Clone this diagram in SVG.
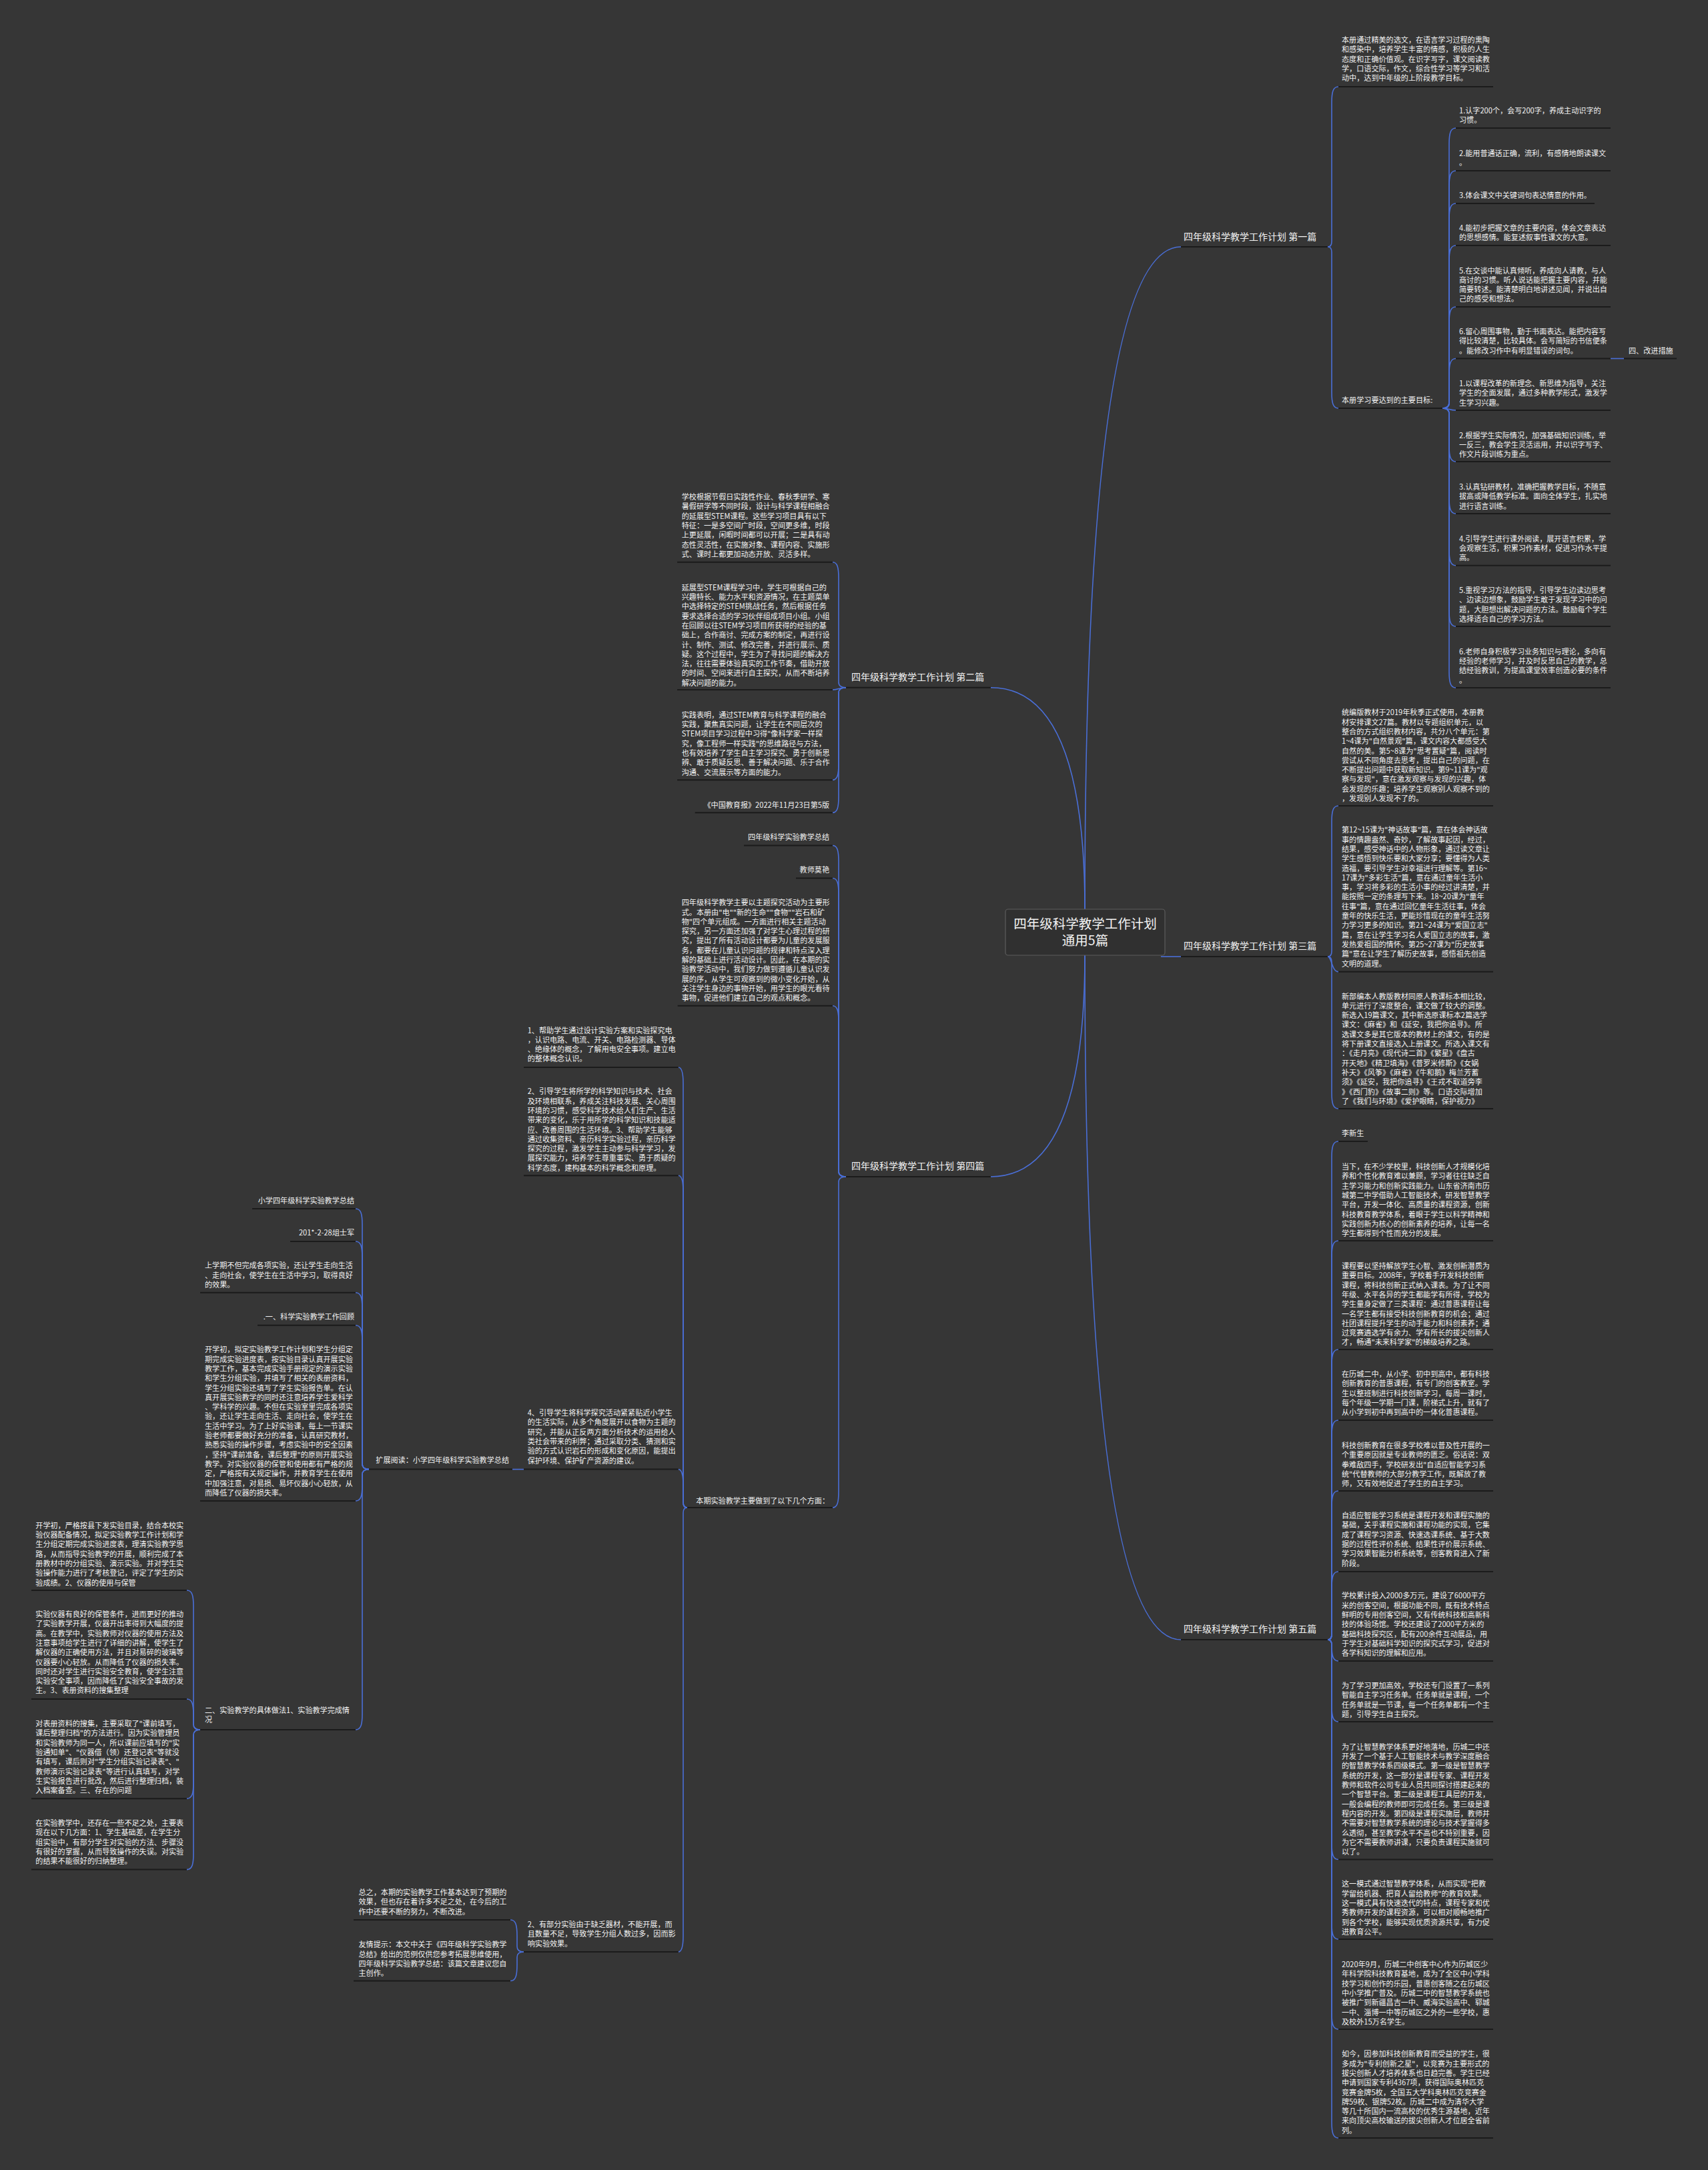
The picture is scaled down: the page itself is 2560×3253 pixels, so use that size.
<svg xmlns="http://www.w3.org/2000/svg" width="2560" height="3253" viewBox="0 0 2560 3253">
<style>
.t{font-family:"Noto Sans CJK SC","Noto Sans",sans-serif;font-size:11.1px;fill:#f2f2f2}
.h{font-family:"Noto Sans CJK SC","Noto Sans",sans-serif;font-size:14px;fill:#f2f2f2}
.rt{font-family:"Noto Sans CJK SC","Noto Sans",sans-serif;font-size:19.5px;fill:#f2f2f2;text-anchor:middle}
.e{text-anchor:end}
.u{stroke:#1b1b1b;stroke-width:2;fill:none}
.c{stroke:#4a6fd8;stroke-width:1.6;fill:none}
</style>
<rect width="2560" height="3253" fill="#363636"/>
<g id="connectors">
<path class="c" d="M1626,1363 Q1626,370 1770,370"/>
<path class="c" d="M1626,1363 Q1626,1030.7 1485,1030.7"/>
<path class="c" d="M1740,1434 L1770,1434"/>
<path class="c" d="M1626,1432 Q1626,1764 1485,1764"/>
<path class="c" d="M1626,1432 Q1626,2458 1770,2458"/>
<path class="c" d="M1990,370 Q1996,370 1996,362 L1996,154 C1996,138 1998,130 2006,130"/>
<path class="c" d="M1990,370 Q1996,370 1996,378 L1996,588 C1996,604 1998,612 2006,612"/>
<path class="c" d="M2162,612 Q2172,612 2172,604 L2172,216 C2172,200 2174,192 2182,192"/>
<path class="c" d="M2162,612 Q2172,612 2172,604 L2172,280 C2172,264 2174,256 2182,256"/>
<path class="c" d="M2162,612 Q2172,612 2172,604 L2172,329 C2172,313 2174,305 2182,305"/>
<path class="c" d="M2162,612 Q2172,612 2172,604 L2172,392 C2172,376 2174,368 2182,368"/>
<path class="c" d="M2162,612 Q2172,612 2172,604 L2172,484 C2172,468 2174,460 2182,460"/>
<path class="c" d="M2162,612 Q2172,612 2172,604 L2172,561.5 C2172,545.5 2174,537.5 2182,537.5"/>
<path class="c" d="M2162,612 C2172,612 2172,615 2182,615"/>
<path class="c" d="M2162,612 Q2172,612 2172,620 L2172,668 C2172,684 2174,692 2182,692"/>
<path class="c" d="M2162,612 Q2172,612 2172,620 L2172,746 C2172,762 2174,770 2182,770"/>
<path class="c" d="M2162,612 Q2172,612 2172,620 L2172,823.7 C2172,839.7 2174,847.7 2182,847.7"/>
<path class="c" d="M2162,612 Q2172,612 2172,620 L2172,915 C2172,931 2174,939 2182,939"/>
<path class="c" d="M2162,612 Q2172,612 2172,620 L2172,1007 C2172,1023 2174,1031 2182,1031"/>
<path class="c" d="M2414,537.5 L2434,537.5"/>
<path class="c" d="M1990,1434 Q1996,1434 1996,1426 L1996,1232 C1996,1216 1998,1208 2006,1208"/>
<path class="c" d="M1990,1434 C1996,1434 1996,1456.7 2006,1456.7"/>
<path class="c" d="M1990,1434 Q1996,1434 1996,1442 L1996,1638 C1996,1654 1998,1662 2006,1662"/>
<path class="c" d="M1990,2458 Q1996,2458 1996,2450 L1996,1735 C1996,1719 1998,1711 2006,1711"/>
<path class="c" d="M1990,2458 Q1996,2458 1996,2450 L1996,1884 C1996,1868 1998,1860 2006,1860"/>
<path class="c" d="M1990,2458 Q1996,2458 1996,2450 L1996,2047 C1996,2031 1998,2023 2006,2023"/>
<path class="c" d="M1990,2458 Q1996,2458 1996,2450 L1996,2153 C1996,2137 1998,2129 2006,2129"/>
<path class="c" d="M1990,2458 Q1996,2458 1996,2450 L1996,2259 C1996,2243 1998,2235 2006,2235"/>
<path class="c" d="M1990,2458 Q1996,2458 1996,2450 L1996,2380 C1996,2364 1998,2356 2006,2356"/>
<path class="c" d="M1990,2458 Q1996,2458 1996,2466 C1996,2482 1998,2490 2006,2490"/>
<path class="c" d="M1990,2458 Q1996,2458 1996,2466 L1996,2557 C1996,2573 1998,2581 2006,2581"/>
<path class="c" d="M1990,2458 Q1996,2458 1996,2466 L1996,2763.5 C1996,2779.5 1998,2787.5 2006,2787.5"/>
<path class="c" d="M1990,2458 Q1996,2458 1996,2466 L1996,2883 C1996,2899 1998,2907 2006,2907"/>
<path class="c" d="M1990,2458 Q1996,2458 1996,2466 L1996,3018 C1996,3034 1998,3042 2006,3042"/>
<path class="c" d="M1990,2458 Q1996,2458 1996,2466 L1996,3181 C1996,3197 1998,3205 2006,3205"/>
<path class="c" d="M1268,1030.7 Q1257,1030.7 1257,1022.7 L1257,866.7 C1257,850.7 1255,842.7 1248,842.7"/>
<path class="c" d="M1268,1030.7 C1257,1030.7 1257,1034 1248,1034"/>
<path class="c" d="M1268,1030.7 Q1257,1030.7 1257,1038.7 L1257,1145.3 C1257,1161.3 1255,1169.3 1248,1169.3"/>
<path class="c" d="M1268,1030.7 Q1257,1030.7 1257,1038.7 L1257,1194.3 C1257,1210.3 1255,1218.3 1248,1218.3"/>
<path class="c" d="M1268,1764 Q1257,1764 1257,1756 L1257,1291.5 C1257,1275.5 1255,1267.5 1248,1267.5"/>
<path class="c" d="M1268,1764 Q1257,1764 1257,1756 L1257,1340.5 C1257,1324.5 1255,1316.5 1248,1316.5"/>
<path class="c" d="M1268,1764 Q1257,1764 1257,1756 L1257,1531.8 C1257,1515.8 1255,1507.8 1248,1507.8"/>
<path class="c" d="M1268,1764 Q1257,1764 1257,1772 L1257,2236 C1257,2252 1255,2260 1248,2260"/>
<path class="c" d="M1030,2260 Q1024,2260 1024,2252 L1024,1624 C1024,1608 1022,1600 1016.7,1600"/>
<path class="c" d="M1030,2260 Q1024,2260 1024,2252 L1024,1786.3 C1024,1770.3 1022,1762.3 1016.7,1762.3"/>
<path class="c" d="M1030,2260 Q1024,2260 1024,2252 L1024,2226.6 C1024,2210.6 1022,2202.6 1016.7,2202.6"/>
<path class="c" d="M1030,2260 Q1024,2260 1024,2268 L1024,2902 C1024,2918 1022,2926 1016.7,2926"/>
<path class="c" d="M785,2202.6 L768,2202.6"/>
<path class="c" d="M553,2202.6 Q543,2202.6 543,2194.6 L543,1836 C543,1820 541,1812 533,1812"/>
<path class="c" d="M553,2202.6 Q543,2202.6 543,2194.6 L543,1885 C543,1869 541,1861 533,1861"/>
<path class="c" d="M553,2202.6 Q543,2202.6 543,2194.6 L543,1961.7 C543,1945.7 541,1937.7 533,1937.7"/>
<path class="c" d="M553,2202.6 Q543,2202.6 543,2194.6 L543,2010.7 C543,1994.7 541,1986.7 533,1986.7"/>
<path class="c" d="M553,2202.6 Q543,2202.6 543,2210.6 L543,2226 C543,2242 541,2250 533,2250"/>
<path class="c" d="M553,2202.6 Q543,2202.6 543,2210.6 L543,2569 C543,2585 541,2593 533,2593"/>
<path class="c" d="M300,2593 Q290,2593 290,2585 L290,2408 C290,2392 288,2384 280,2384"/>
<path class="c" d="M300,2593 Q290,2593 290,2585 L290,2571 C290,2555 288,2547 280,2547"/>
<path class="c" d="M300,2593 Q290,2593 290,2601 L290,2672.3 C290,2688.3 288,2696.3 280,2696.3"/>
<path class="c" d="M300,2593 Q290,2593 290,2601 L290,2778.6 C290,2794.6 288,2802.6 280,2802.6"/>
<path class="c" d="M785,2926 Q775,2926 775,2918 L775,2902 C775,2886 773,2878 765,2878"/>
<path class="c" d="M785,2926 Q775,2926 775,2934 L775,2945.5 C775,2961.5 773,2969.5 765,2969.5"/>
</g>
<g id="root">
<rect x="1507" y="1363" width="239" height="69" rx="4" fill="#303030" stroke="#5c5c5c" stroke-width="1.2"/>
<text class="rt" x="1626.5" y="1392">四年级科学教学工作计划</text>
<text class="rt" x="1626.5" y="1417">通用5篇</text>
</g>
<g id="sec1"><text class="h" x="1774" y="360">四年级科学教学工作计划 第一篇</text><line class="u" x1="1770" y1="370" x2="1990" y2="370"/></g>
<g id="sec2"><text class="h" x="1276" y="1020">四年级科学教学工作计划 第二篇</text><line class="u" x1="1268" y1="1030.7" x2="1485" y2="1030.7"/></g>
<g id="sec3"><text class="h" x="1774" y="1423">四年级科学教学工作计划 第三篇</text><line class="u" x1="1770" y1="1434" x2="1990" y2="1434"/></g>
<g id="sec4"><text class="h" x="1276" y="1753">四年级科学教学工作计划 第四篇</text><line class="u" x1="1268" y1="1764" x2="1485" y2="1764"/></g>
<g id="sec5"><text class="h" x="1774" y="2447">四年级科学教学工作计划 第五篇</text><line class="u" x1="1770" y1="2458" x2="1990" y2="2458"/></g>

<g id="r1a"><text class="t" x="2011" y="64"><tspan x="2011">本册通过精美的选文，在语言学习过程的熏陶</tspan><tspan x="2011" dy="14.3">和感染中，培养学生丰富的情感，积极的人生</tspan><tspan x="2011" dy="14.3">态度和正确价值观。在识字写字，课文阅读教</tspan><tspan x="2011" dy="14.3">学，口语交际，作文，综合性学习等学习和活</tspan><tspan x="2011" dy="14.3">动中，达到中年级的上阶段教学目标。</tspan></text><line class="u" x1="2006" y1="130" x2="2238" y2="130"/></g>
<g id="r1b"><text class="t" x="2011" y="604">本册学习要达到的主要目标:</text><line class="u" x1="2006" y1="612" x2="2162" y2="612"/></g>
<g id="c1"><text class="t" x="2187" y="170"><tspan x="2187">1.认字200个，会写200字，养成主动识字的</tspan><tspan x="2187" dy="14.3">习惯。</tspan></text><line class="u" x1="2182" y1="192" x2="2414" y2="192"/></g>
<g id="c2"><text class="t" x="2187" y="234"><tspan x="2187">2.能用普通话正确，流利，有感情地朗读课文</tspan><tspan x="2187" dy="14.3">。</tspan></text><line class="u" x1="2182" y1="256" x2="2414" y2="256"/></g>
<g id="c3"><text class="t" x="2187" y="297">3.体会课文中关键词句表达情意的作用。</text><line class="u" x1="2182" y1="305" x2="2390" y2="305"/></g>
<g id="c4"><text class="t" x="2187" y="346"><tspan x="2187">4.能初步把握文章的主要内容，体会文章表达</tspan><tspan x="2187" dy="14.3">的思想感情。能复述叙事性课文的大意。</tspan></text><line class="u" x1="2182" y1="368" x2="2414" y2="368"/></g>
<g id="c5"><text class="t" x="2187" y="409.5"><tspan x="2187">5.在交谈中能认真倾听，养成向人请教，与人</tspan><tspan x="2187" dy="14.3">商讨的习惯。听人说话能把握主要内容，并能</tspan><tspan x="2187" dy="14.3">简要转述。能清楚明白地讲述见闻，并说出自</tspan><tspan x="2187" dy="14.3">己的感受和想法。</tspan></text><line class="u" x1="2182" y1="460" x2="2414" y2="460"/></g>
<g id="c6"><text class="t" x="2187" y="501"><tspan x="2187">6.留心周围事物，勤于书面表达。能把内容写</tspan><tspan x="2187" dy="14.3">得比较清楚，比较具体。会写简短的书信便条</tspan><tspan x="2187" dy="14.3">。能修改习作中有明显错误的词句。</tspan></text><line class="u" x1="2182" y1="537.5" x2="2414" y2="537.5"/></g>
<g id="c6a"><text class="t" x="2441" y="530">四、改进措施</text><line class="u" x1="2434" y1="537.5" x2="2513" y2="537.5"/></g>
<g id="c7"><text class="t" x="2187" y="579"><tspan x="2187">1.以课程改革的新理念、新思维为指导，关注</tspan><tspan x="2187" dy="14.3">学生的全面发展，通过多种教学形式，激发学</tspan><tspan x="2187" dy="14.3">生学习兴趣。</tspan></text><line class="u" x1="2182" y1="615" x2="2414" y2="615"/></g>
<g id="c8"><text class="t" x="2187" y="656.7"><tspan x="2187">2.根据学生实际情况，加强基础知识训练，举</tspan><tspan x="2187" dy="14.3">一反三，教会学生灵活运用，并以识字写字、</tspan><tspan x="2187" dy="14.3">作文片段训练为重点。</tspan></text><line class="u" x1="2182" y1="692" x2="2414" y2="692"/></g>
<g id="c9"><text class="t" x="2187" y="734"><tspan x="2187">3.认真钻研教材，准确把握教学目标，不随意</tspan><tspan x="2187" dy="14.3">拔高或降低教学标准。面向全体学生，扎实地</tspan><tspan x="2187" dy="14.3">进行语言训练。</tspan></text><line class="u" x1="2182" y1="770" x2="2414" y2="770"/></g>
<g id="c10"><text class="t" x="2187" y="811.7"><tspan x="2187">4.引导学生进行课外阅读，展开语言积累，学</tspan><tspan x="2187" dy="14.3">会观察生活，积累习作素材，促进习作水平提</tspan><tspan x="2187" dy="14.3">高。</tspan></text><line class="u" x1="2182" y1="847.7" x2="2414" y2="847.7"/></g>
<g id="c11"><text class="t" x="2187" y="889"><tspan x="2187">5.重视学习方法的指导，引导学生边读边思考</tspan><tspan x="2187" dy="14.3">、边读边想象，鼓励学生敢于发现学习中的问</tspan><tspan x="2187" dy="14.3">题，大胆想出解决问题的方法。鼓励每个学生</tspan><tspan x="2187" dy="14.3">选择适合自己的学习方法。</tspan></text><line class="u" x1="2182" y1="939" x2="2414" y2="939"/></g>
<g id="c12"><text class="t" x="2187" y="980.7"><tspan x="2187">6.老师自身积极学习业务知识与理论，多向有</tspan><tspan x="2187" dy="14.3">经验的老师学习，并及时反思自己的教学，总</tspan><tspan x="2187" dy="14.3">结经验教训，为提高课堂效率创造必要的条件</tspan><tspan x="2187" dy="14.3">。</tspan></text><line class="u" x1="2182" y1="1031" x2="2414" y2="1031"/></g>

<g id="r3a"><text class="t" x="2011" y="1072.3"><tspan x="2011">统编版教材于2019年秋季正式使用，本册教</tspan><tspan x="2011" dy="14.3">材安排课文27篇。教材以专题组织单元，以</tspan><tspan x="2011" dy="14.3">整合的方式组织教材内容，共分八个单元：第</tspan><tspan x="2011" dy="14.3">1~4课为"自然景观"篇，课文内容大都感受大</tspan><tspan x="2011" dy="14.3">自然的美。第5~8课为"思考置疑"篇，阅读时</tspan><tspan x="2011" dy="14.3">尝试从不同角度去思考，提出自己的问题，在</tspan><tspan x="2011" dy="14.3">不断提出问题中获取新知识。第9~11课为"观</tspan><tspan x="2011" dy="14.3">察与发现"，意在激发观察与发现的兴趣，体</tspan><tspan x="2011" dy="14.3">会发现的乐趣；培养学生观察别人观察不到的</tspan><tspan x="2011" dy="14.3">，发现别人发现不了的。</tspan></text><line class="u" x1="2006" y1="1208" x2="2238" y2="1208"/></g>
<g id="r3b"><text class="t" x="2011" y="1248.3"><tspan x="2011">第12~15课为"神话故事"篇，意在体会神话故</tspan><tspan x="2011" dy="14.3">事的情趣盎然、奇妙，了解故事起因，经过，</tspan><tspan x="2011" dy="14.3">结果，感受神话中的人物形象，通过读文章让</tspan><tspan x="2011" dy="14.3">学生感悟到快乐要和大家分享；要懂得为人类</tspan><tspan x="2011" dy="14.3">造福，要引导学生对幸福进行理解等。第16~</tspan><tspan x="2011" dy="14.3">17课为"多彩生活"篇，意在通过童年生活小</tspan><tspan x="2011" dy="14.3">事，学习将多彩的生活小事的经过讲清楚，并</tspan><tspan x="2011" dy="14.3">能按照一定的条理写下来。18~20课为"童年</tspan><tspan x="2011" dy="14.3">往事"篇，意在通过回忆童年生活往事，体会</tspan><tspan x="2011" dy="14.3">童年的快乐生活，更能珍惜现在的童年生活努</tspan><tspan x="2011" dy="14.3">力学习更多的知识。第21~24课为"爱国立志"</tspan><tspan x="2011" dy="14.3">篇，意在让学生学习名人爱国立志的故事，激</tspan><tspan x="2011" dy="14.3">发热爱祖国的情怀。第25~27课为"历史故事</tspan><tspan x="2011" dy="14.3">篇"意在让学生了解历史故事，感悟祖先创造</tspan><tspan x="2011" dy="14.3">文明的道理。</tspan></text><line class="u" x1="2006" y1="1456.7" x2="2238" y2="1456.7"/></g>
<g id="r3c"><text class="t" x="2011" y="1497.5"><tspan x="2011">新部编本人教版教材同原人教课标本相比较，</tspan><tspan x="2011" dy="14.3">单元进行了深度整合，课文做了较大的调整。</tspan><tspan x="2011" dy="14.3">新选入19篇课文，其中新选原课标本2篇选学</tspan><tspan x="2011" dy="14.3">课文：《麻雀》和《延安，我把你追寻》。所</tspan><tspan x="2011" dy="14.3">选课文多是其它版本的教材上的课文，有的是</tspan><tspan x="2011" dy="14.3">将下册课文直接选入上册课文。所选入课文有</tspan><tspan x="2011" dy="14.3">：《走月亮》《现代诗二首》《繁星》《盘古</tspan><tspan x="2011" dy="14.3">开天地》《精卫填海》《普罗米修斯》《女娲</tspan><tspan x="2011" dy="14.3">补天》《风筝》《麻雀》《牛和鹅》梅兰芳蓄</tspan><tspan x="2011" dy="14.3">须》《延安，我把你追寻》《王戎不取道旁李</tspan><tspan x="2011" dy="14.3">》《西门豹》《故事二则》等。口语交际增加</tspan><tspan x="2011" dy="14.3">了《我们与环境》《爱护眼睛，保护视力》</tspan></text><line class="u" x1="2006" y1="1662" x2="2238" y2="1662"/></g>

<g id="r5a"><text class="t" x="2011" y="1703">李新生</text><line class="u" x1="2006" y1="1711" x2="2050" y2="1711"/></g>
<g id="r5b"><text class="t" x="2011" y="1753"><tspan x="2011">当下，在不少学校里，科技创新人才规模化培</tspan><tspan x="2011" dy="14.3">养和个性化教育难以兼顾，学习者往往缺乏自</tspan><tspan x="2011" dy="14.3">主学习能力和创新实践能力。山东省济南市历</tspan><tspan x="2011" dy="14.3">城第二中学借助人工智能技术，研发智慧教学</tspan><tspan x="2011" dy="14.3">平台，开发一体化、高质量的课程资源，创新</tspan><tspan x="2011" dy="14.3">科技教育教学体系，着眼于学生以科学精神和</tspan><tspan x="2011" dy="14.3">实践创新为核心的创新素养的培养，让每一名</tspan><tspan x="2011" dy="14.3">学生都得到个性而充分的发展。</tspan></text><line class="u" x1="2006" y1="1860" x2="2238" y2="1860"/></g>
<g id="r5c"><text class="t" x="2011" y="1902"><tspan x="2011">课程要以坚持解放学生心智、激发创新潜质为</tspan><tspan x="2011" dy="14.3">重要目标。2008年，学校着手开发科技创新</tspan><tspan x="2011" dy="14.3">课程，将科技创新正式纳入课表。为了让不同</tspan><tspan x="2011" dy="14.3">年级、水平各异的学生都能学有所得，学校为</tspan><tspan x="2011" dy="14.3">学生量身定做了三类课程：通过普惠课程让每</tspan><tspan x="2011" dy="14.3">一名学生都有接受科技创新教育的机会；通过</tspan><tspan x="2011" dy="14.3">社团课程提升学生的动手能力和科创素养；通</tspan><tspan x="2011" dy="14.3">过竞赛遴选学有余力、学有所长的拔尖创新人</tspan><tspan x="2011" dy="14.3">才，畅通"未来科学家"的梯级培养之路。</tspan></text><line class="u" x1="2006" y1="2023" x2="2238" y2="2023"/></g>
<g id="r5d"><text class="t" x="2011" y="2064"><tspan x="2011">在历城二中，从小学、初中到高中，都有科技</tspan><tspan x="2011" dy="14.3">创新教育的普惠课程，有专门的创客教室。学</tspan><tspan x="2011" dy="14.3">生以整班制进行科技创新学习，每周一课时，</tspan><tspan x="2011" dy="14.3">每个年级一学期一门课，阶梯式上升，就有了</tspan><tspan x="2011" dy="14.3">从小学到初中再到高中的一体化普惠课程。</tspan></text><line class="u" x1="2006" y1="2129" x2="2238" y2="2129"/></g>
<g id="r5e"><text class="t" x="2011" y="2171"><tspan x="2011">科技创新教育在很多学校难以普及性开展的一</tspan><tspan x="2011" dy="14.3">个重要原因就是专业教师的匮乏。俗话说：双</tspan><tspan x="2011" dy="14.3">拳难敌四手，学校研发出"自适应智能学习系</tspan><tspan x="2011" dy="14.3">统"代替教师的大部分教学工作，既解放了教</tspan><tspan x="2011" dy="14.3">师，又有效地促进了学生的自主学习。</tspan></text><line class="u" x1="2006" y1="2235" x2="2238" y2="2235"/></g>
<g id="r5f"><text class="t" x="2011" y="2276"><tspan x="2011">自适应智能学习系统是课程开发和课程实施的</tspan><tspan x="2011" dy="14.3">基础，关乎课程实施和课程功能的实现，它集</tspan><tspan x="2011" dy="14.3">成了课程学习资源、快速选课系统、基于大数</tspan><tspan x="2011" dy="14.3">据的过程性评价系统、结果性评价展示系统、</tspan><tspan x="2011" dy="14.3">学习效果智能分析系统等，创客教育进入了新</tspan><tspan x="2011" dy="14.3">阶段。</tspan></text><line class="u" x1="2006" y1="2356" x2="2238" y2="2356"/></g>
<g id="r5g"><text class="t" x="2011" y="2396.4"><tspan x="2011">学校累计投入2000多万元，建设了6000平方</tspan><tspan x="2011" dy="14.3">米的创客空间，根据功能不同，既有技术特点</tspan><tspan x="2011" dy="14.3">鲜明的专用创客空间，又有传统科技和高新科</tspan><tspan x="2011" dy="14.3">技的体验场馆。学校还建设了2000平方米的</tspan><tspan x="2011" dy="14.3">基础科技探究区，配有200余件互动展品，用</tspan><tspan x="2011" dy="14.3">于学生对基础科学知识的探究式学习，促进对</tspan><tspan x="2011" dy="14.3">各学科知识的理解和应用。</tspan></text><line class="u" x1="2006" y1="2490" x2="2238" y2="2490"/></g>
<g id="r5h"><text class="t" x="2011" y="2531"><tspan x="2011">为了学习更加高效，学校还专门设置了一系列</tspan><tspan x="2011" dy="14.3">智能自主学习任务单。任务单就是课程，一个</tspan><tspan x="2011" dy="14.3">任务单就是一节课，每一个任务单都有一个主</tspan><tspan x="2011" dy="14.3">题，引导学生自主探究。</tspan></text><line class="u" x1="2006" y1="2581" x2="2238" y2="2581"/></g>
<g id="r5i"><text class="t" x="2011" y="2622.8"><tspan x="2011">为了让智慧教学体系更好地落地，历城二中还</tspan><tspan x="2011" dy="14.3">开发了一个基于人工智能技术与教学深度融合</tspan><tspan x="2011" dy="14.3">的智慧教学体系四级模式。第一级是智慧教学</tspan><tspan x="2011" dy="14.3">系统的开发，这一部分是课程专家、课程开发</tspan><tspan x="2011" dy="14.3">教师和软件公司专业人员共同探讨搭建起来的</tspan><tspan x="2011" dy="14.3">一个智慧平台。第二级是课程工具层的开发，</tspan><tspan x="2011" dy="14.3">一般会编程的教师即可完成任务。第三级是课</tspan><tspan x="2011" dy="14.3">程内容的开发。第四级是课程实施层，教师并</tspan><tspan x="2011" dy="14.3">不需要对智慧教学系统的理论与技术掌握得多</tspan><tspan x="2011" dy="14.3">么透彻，甚至教学水平不高也不特别重要，因</tspan><tspan x="2011" dy="14.3">为它不需要教师讲课，只要负责课程实施就可</tspan><tspan x="2011" dy="14.3">以了。</tspan></text><line class="u" x1="2006" y1="2787.5" x2="2238" y2="2787.5"/></g>
<g id="r5j"><text class="t" x="2011" y="2828.3"><tspan x="2011">这一模式通过智慧教学体系，从而实现"把教</tspan><tspan x="2011" dy="14.3">学留给机器、把育人留给教师"的教育效果。</tspan><tspan x="2011" dy="14.3">这一模式具有快速迭代的特点，课程专家和优</tspan><tspan x="2011" dy="14.3">秀教师开发的课程资源，可以相对顺畅地推广</tspan><tspan x="2011" dy="14.3">到各个学校，能够实现优质资源共享，有力促</tspan><tspan x="2011" dy="14.3">进教育公平。</tspan></text><line class="u" x1="2006" y1="2907" x2="2238" y2="2907"/></g>
<g id="r5k"><text class="t" x="2011" y="2949"><tspan x="2011">2020年9月，历城二中创客中心作为历城区少</tspan><tspan x="2011" dy="14.3">年科学院科技教育基地，成为了全区中小学科</tspan><tspan x="2011" dy="14.3">技学习和创作的乐园，普惠创客随之在历城区</tspan><tspan x="2011" dy="14.3">中小学推广普及。历城二中的智慧教学系统也</tspan><tspan x="2011" dy="14.3">被推广到新疆昌吉一中、威海实验高中、郓城</tspan><tspan x="2011" dy="14.3">一中、淄博一中等历城区之外的一些学校，惠</tspan><tspan x="2011" dy="14.3">及校外15万名学生。</tspan></text><line class="u" x1="2006" y1="3042" x2="2238" y2="3042"/></g>
<g id="r5l"><text class="t" x="2011" y="3083.3"><tspan x="2011">如今，因参加科技创新教育而受益的学生，很</tspan><tspan x="2011" dy="14.3">多成为"专利创新之星"，以竞赛为主要形式的</tspan><tspan x="2011" dy="14.3">拔尖创新人才培养体系也日趋完善。学生已经</tspan><tspan x="2011" dy="14.3">申请到国家专利4367项，获得国际奥林匹克</tspan><tspan x="2011" dy="14.3">竞赛金牌5枚，全国五大学科奥林匹克竞赛金</tspan><tspan x="2011" dy="14.3">牌59枚、银牌52枚。历城二中成为清华大学</tspan><tspan x="2011" dy="14.3">等几十所国内一流高校的优秀生源基地，近年</tspan><tspan x="2011" dy="14.3">来向顶尖高校输送的拔尖创新人才位居全省前</tspan><tspan x="2011" dy="14.3">列。</tspan></text><line class="u" x1="2006" y1="3205" x2="2238" y2="3205"/></g>

<g id="l2a"><text class="t" x="1021.7" y="749"><tspan x="1021.7">学校根据节假日实践性作业、春秋季研学、寒</tspan><tspan x="1021.7" dy="14.3">暑假研学等不同时段，设计与科学课程相融合</tspan><tspan x="1021.7" dy="14.3">的延展型STEM课程。这些学习项目具有以下</tspan><tspan x="1021.7" dy="14.3">特征：一是多空间广时段，空间更多维，时段</tspan><tspan x="1021.7" dy="14.3">上更延展，闲暇时间都可以开展；二是具有动</tspan><tspan x="1021.7" dy="14.3">态性灵活性，在实施对象、课程内容、实施形</tspan><tspan x="1021.7" dy="14.3">式、课时上都更加动态开放、灵活多样。</tspan></text><line class="u" x1="1015" y1="842.7" x2="1248" y2="842.7"/></g>
<g id="l2b"><text class="t" x="1021.7" y="884.7"><tspan x="1021.7">延展型STEM课程学习中，学生可根据自己的</tspan><tspan x="1021.7" dy="14.3">兴趣特长、能力水平和资源情况，在主题菜单</tspan><tspan x="1021.7" dy="14.3">中选择特定的STEM挑战任务，然后根据任务</tspan><tspan x="1021.7" dy="14.3">要求选择合适的学习伙伴组成项目小组。小组</tspan><tspan x="1021.7" dy="14.3">在回顾以往STEM学习项目所获得的经验的基</tspan><tspan x="1021.7" dy="14.3">础上，合作商讨、完成方案的制定，再进行设</tspan><tspan x="1021.7" dy="14.3">计、制作、测试、修改完善，并进行展示、质</tspan><tspan x="1021.7" dy="14.3">疑。这个过程中，学生为了寻找问题的解决方</tspan><tspan x="1021.7" dy="14.3">法，往往需要体验真实的工作节奏，借助开放</tspan><tspan x="1021.7" dy="14.3">的时间、空间来进行自主探究，从而不断培养</tspan><tspan x="1021.7" dy="14.3">解决问题的能力。</tspan></text><line class="u" x1="1015" y1="1034" x2="1248" y2="1034"/></g>
<g id="l2c"><text class="t" x="1021.7" y="1075.7"><tspan x="1021.7">实践表明，通过STEM教育与科学课程的融合</tspan><tspan x="1021.7" dy="14.3">实践，聚焦真实问题，让学生在不同层次的</tspan><tspan x="1021.7" dy="14.3">STEM项目学习过程中习得"像科学家一样探</tspan><tspan x="1021.7" dy="14.3">究，像工程师一样实践"的思维路径与方法，</tspan><tspan x="1021.7" dy="14.3">也有效培养了学生自主学习探究、勇于创新思</tspan><tspan x="1021.7" dy="14.3">辨、敢于质疑反思、善于解决问题、乐于合作</tspan><tspan x="1021.7" dy="14.3">沟通、交流展示等方面的能力。</tspan></text><line class="u" x1="1015" y1="1169.3" x2="1248" y2="1169.3"/></g>
<g id="l2d"><text class="t e" x="1243" y="1210.7">《中国教育报》2022年11月23日第5版</text><line class="u" x1="1041.7" y1="1218.3" x2="1248" y2="1218.3"/></g>

<g id="l4a"><text class="t e" x="1243" y="1259">四年级科学实验教学总结</text><line class="u" x1="1115" y1="1267.5" x2="1248" y2="1267.5"/></g>
<g id="l4b"><text class="t e" x="1243" y="1308">教师莫艳</text><line class="u" x1="1193" y1="1316.5" x2="1248" y2="1316.5"/></g>
<g id="l4c"><text class="t" x="1021.7" y="1357.2"><tspan x="1021.7">四年级科学教学主要以主题探究活动为主要形</tspan><tspan x="1021.7" dy="14.3">式。本册由"电""新的生命""食物""岩石和矿</tspan><tspan x="1021.7" dy="14.3">物"四个单元组成。一方面进行相关主题活动</tspan><tspan x="1021.7" dy="14.3">探究，另一方面还加强了对学生心理过程的研</tspan><tspan x="1021.7" dy="14.3">究，提出了所有活动设计都要为儿童的发展服</tspan><tspan x="1021.7" dy="14.3">务，都要在儿童认识问题的规律和特点深入理</tspan><tspan x="1021.7" dy="14.3">解的基础上进行活动设计。因此，在本期的实</tspan><tspan x="1021.7" dy="14.3">验教学活动中，我们努力做到遵循儿童认识发</tspan><tspan x="1021.7" dy="14.3">展的序，从学生可观察到的微小变化开始，从</tspan><tspan x="1021.7" dy="14.3">关注学生身边的事物开始，用学生的眼光看待</tspan><tspan x="1021.7" dy="14.3">事物，促进他们建立自己的观点和概念。</tspan></text><line class="u" x1="1015.7" y1="1507.8" x2="1248" y2="1507.8"/></g>
<g id="l4d"><text class="t e" x="1243" y="2254">本期实验教学主要做到了以下几个方面：</text><line class="u" x1="1030" y1="2260" x2="1248" y2="2260"/></g>
<g id="l4d1"><text class="t" x="790.7" y="1548.5"><tspan x="790.7">1、帮助学生通过设计实验方案和实验探究电</tspan><tspan x="790.7" dy="14.3">，认识电路、电流、开关、电路检测器、导体</tspan><tspan x="790.7" dy="14.3">、绝缘体的概念，了解用电安全事项。建立电</tspan><tspan x="790.7" dy="14.3">的整体概念认识。</tspan></text><line class="u" x1="785" y1="1600" x2="1016.7" y2="1600"/></g>
<g id="l4d2"><text class="t" x="790.7" y="1640.3"><tspan x="790.7">2、引导学生将所学的科学知识与技术、社会</tspan><tspan x="790.7" dy="14.3">及环境相联系，养成关注科技发展、关心周围</tspan><tspan x="790.7" dy="14.3">环境的习惯，感受科学技术给人们生产、生活</tspan><tspan x="790.7" dy="14.3">带来的变化，乐于用所学的科学知识和技能适</tspan><tspan x="790.7" dy="14.3">应、改善周围的生活环境。3、帮助学生能够</tspan><tspan x="790.7" dy="14.3">通过收集资料、亲历科学实验过程，亲历科学</tspan><tspan x="790.7" dy="14.3">探究的过程，激发学生主动参与科学学习，发</tspan><tspan x="790.7" dy="14.3">展探究能力，培养学生尊重事实、勇于质疑的</tspan><tspan x="790.7" dy="14.3">科学态度，建构基本的科学概念和原理。</tspan></text><line class="u" x1="785" y1="1762.3" x2="1016.7" y2="1762.3"/></g>
<g id="l4d3"><text class="t" x="790.7" y="2122"><tspan x="790.7">4、引导学生将科学探究活动紧紧贴近小学生</tspan><tspan x="790.7" dy="14.3">的生活实际，从多个角度展开以食物为主题的</tspan><tspan x="790.7" dy="14.3">研究，并能从正反两方面分析技术的运用给人</tspan><tspan x="790.7" dy="14.3">类社会带来的利弊；通过采取分类、猜测和实</tspan><tspan x="790.7" dy="14.3">验的方式认识岩石的形成和变化原因，能提出</tspan><tspan x="790.7" dy="14.3">保护环境、保护矿产资源的建议。</tspan></text><line class="u" x1="785" y1="2202.6" x2="1016.7" y2="2202.6"/></g>
<g id="l4d4"><text class="t" x="790.7" y="2889"><tspan x="790.7">2、有部分实验由于缺乏器材，不能开展，而</tspan><tspan x="790.7" dy="14.3">且数量不足，导致学生分组人数过多，因而影</tspan><tspan x="790.7" dy="14.3">响实验效果。</tspan></text><line class="u" x1="785" y1="2926" x2="1016.7" y2="2926"/></g>
<g id="g1"><text class="t" x="537.5" y="2841"><tspan x="537.5">总之，本期的实验教学工作基本达到了预期的</tspan><tspan x="537.5" dy="14.3">效果，但也存在着许多不足之处，在今后的工</tspan><tspan x="537.5" dy="14.3">作中还要不断的努力，不断改进。</tspan></text><line class="u" x1="530" y1="2878" x2="765" y2="2878"/></g>
<g id="g2"><text class="t" x="537.5" y="2919.4"><tspan x="537.5">友情提示：本文中关于《四年级科学实验教学</tspan><tspan x="537.5" dy="14.3">总结》给出的范例仅供您参考拓展思维使用，</tspan><tspan x="537.5" dy="14.3">四年级科学实验教学总结：该篇文章建议您自</tspan><tspan x="537.5" dy="14.3">主创作。</tspan></text><line class="u" x1="530" y1="2969.5" x2="765" y2="2969.5"/></g>
<g id="ext"><text class="t e" x="763" y="2193">扩展阅读：小学四年级科学实验教学总结</text><line class="u" x1="553" y1="2202.6" x2="768" y2="2202.6"/></g>
<g id="k1"><text class="t e" x="531" y="1804">小学四年级科学实验教学总结</text><line class="u" x1="378" y1="1812" x2="533" y2="1812"/></g>
<g id="k2"><text class="t e" x="531" y="1852">201*-2-28俎士军</text><line class="u" x1="435" y1="1861" x2="533" y2="1861"/></g>
<g id="k3"><text class="t" x="307" y="1901.3"><tspan x="307">上学期不但完成各项实验，还让学生走向生活</tspan><tspan x="307" dy="14.3">、走向社会，使学生在生活中学习，取得良好</tspan><tspan x="307" dy="14.3">的效果。</tspan></text><line class="u" x1="300" y1="1937.7" x2="533" y2="1937.7"/></g>
<g id="k4"><text class="t e" x="531" y="1978">.一、科学实验教学工作回顾</text><line class="u" x1="386" y1="1986.7" x2="533" y2="1986.7"/></g>
<g id="k5"><text class="t" x="307" y="2027.3"><tspan x="307">开学初，拟定实验教学工作计划和学生分组定</tspan><tspan x="307" dy="14.3">期完成实验进度表，按实验目录认真开展实验</tspan><tspan x="307" dy="14.3">教学工作，基本完成实验手册规定的演示实验</tspan><tspan x="307" dy="14.3">和学生分组实验，并填写了相关的表册资料，</tspan><tspan x="307" dy="14.3">学生分组实验还填写了学生实验报告单。在认</tspan><tspan x="307" dy="14.3">真开展实验教学的同时还注意培养学生爱科学</tspan><tspan x="307" dy="14.3">、学科学的兴趣。不但在实验室里完成各项实</tspan><tspan x="307" dy="14.3">验，还让学生走向生活、走向社会，使学生在</tspan><tspan x="307" dy="14.3">生活中学习。为了上好实验课，每上一节课实</tspan><tspan x="307" dy="14.3">验老师都要做好充分的准备，认真研究教材，</tspan><tspan x="307" dy="14.3">熟悉实验的操作步骤，考虑实验中的安全因素</tspan><tspan x="307" dy="14.3">，坚持"课前准备，课后整理"的原则开展实验</tspan><tspan x="307" dy="14.3">教学。对实验仪器的保管和使用都有严格的规</tspan><tspan x="307" dy="14.3">定，严格按有关规定操作，并教育学生在使用</tspan><tspan x="307" dy="14.3">中加强注意，对易损、易坏仪器小心轻放，从</tspan><tspan x="307" dy="14.3">而降低了仪器的损失率。</tspan></text><line class="u" x1="300" y1="2250" x2="533" y2="2250"/></g>
<g id="k6"><text class="t" x="307" y="2568"><tspan x="307">二、实验教学的具体做法1、实验教学完成情</tspan><tspan x="307" dy="14.3">况</tspan></text><line class="u" x1="300" y1="2593" x2="533" y2="2593"/></g>
<g id="f1"><text class="t" x="53.3" y="2290.8"><tspan x="53.3">开学初，严格按县下发实验目录，结合本校实</tspan><tspan x="53.3" dy="14.3">验仪器配备情况，拟定实验教学工作计划和学</tspan><tspan x="53.3" dy="14.3">生分组定期完成实验进度表，理清实验教学思</tspan><tspan x="53.3" dy="14.3">路，从而指导实验教学的开展，顺利完成了本</tspan><tspan x="53.3" dy="14.3">册教材中的分组实验、演示实验。并对学生实</tspan><tspan x="53.3" dy="14.3">验操作能力进行了考核登记，评定了学生的实</tspan><tspan x="53.3" dy="14.3">验成绩。2、仪器的使用与保管</tspan></text><line class="u" x1="47" y1="2384" x2="280" y2="2384"/></g>
<g id="f2"><text class="t" x="53.3" y="2424"><tspan x="53.3">实验仪器有良好的保管条件，进而更好的推动</tspan><tspan x="53.3" dy="14.3">了实验教学开展，仪器开出率得到大幅度的提</tspan><tspan x="53.3" dy="14.3">高。在教学中，实验教师对仪器的使用方法及</tspan><tspan x="53.3" dy="14.3">注意事项给学生进行了详细的讲解，使学生了</tspan><tspan x="53.3" dy="14.3">解仪器的正确使用方法，并且对易碎的玻璃等</tspan><tspan x="53.3" dy="14.3">仪器要小心轻放。从而降低了仪器的损失率。</tspan><tspan x="53.3" dy="14.3">同时还对学生进行实验安全教育，使学生注意</tspan><tspan x="53.3" dy="14.3">实验安全事项，因而降低了实验安全事故的发</tspan><tspan x="53.3" dy="14.3">生。3、表册资料的搜集整理</tspan></text><line class="u" x1="47" y1="2547" x2="280" y2="2547"/></g>
<g id="f3"><text class="t" x="53.3" y="2588"><tspan x="53.3">对表册资料的搜集，主要采取了"课前填写，</tspan><tspan x="53.3" dy="14.3">课后整理归档"的方法进行。因为实验管理员</tspan><tspan x="53.3" dy="14.3">和实验教师为同一人，所以课前应填写的"实</tspan><tspan x="53.3" dy="14.3">验通知单"、"仪器借（领）还登记表"等就没</tspan><tspan x="53.3" dy="14.3">有填写，课后则对"学生分组实验记录表"、"</tspan><tspan x="53.3" dy="14.3">教师演示实验记录表"等进行认真填写，对学</tspan><tspan x="53.3" dy="14.3">生实验报告进行批改，然后进行整理归档，装</tspan><tspan x="53.3" dy="14.3">入档案备查。三、存在的问题</tspan></text><line class="u" x1="47" y1="2696.3" x2="280" y2="2696.3"/></g>
<g id="f4"><text class="t" x="53.3" y="2737"><tspan x="53.3">在实验教学中，还存在一些不足之处，主要表</tspan><tspan x="53.3" dy="14.3">现在以下几方面：1、学生基础差，在学生分</tspan><tspan x="53.3" dy="14.3">组实验中，有部分学生对实验的方法、步骤没</tspan><tspan x="53.3" dy="14.3">有很好的掌握，从而导致操作的失误。对实验</tspan><tspan x="53.3" dy="14.3">的结果不能很好的归纳整理。</tspan></text><line class="u" x1="47" y1="2802.6" x2="280" y2="2802.6"/></g>
</svg>
